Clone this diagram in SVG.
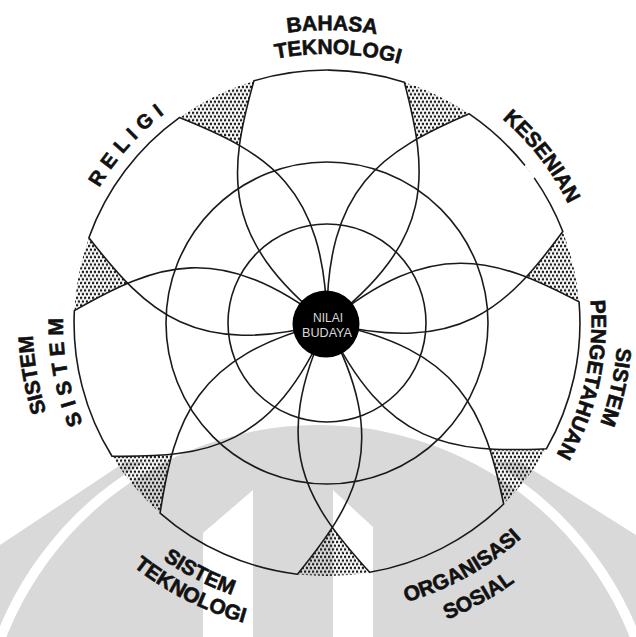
<svg xmlns="http://www.w3.org/2000/svg" width="636" height="637" viewBox="0 0 636 637">
<style>
.ln{fill:none;stroke:#1a1a1a;stroke-width:1.6}
.lbl{font-family:"Liberation Sans",Arial,sans-serif;font-weight:bold;font-size:21px;fill:#111;stroke:#111;stroke-width:0.6}
.ctr{font-family:"Liberation Sans",Arial,sans-serif;font-size:13px;fill:#d8d8d8}
.wm{fill:#d9d9d9}
</style>
<defs>
<pattern id="dots" width="4" height="7.4" patternUnits="userSpaceOnUse">
<circle cx="1" cy="1.85" r="1.3" fill="#1e1e1e"/>
<circle cx="3" cy="5.55" r="1.3" fill="#1e1e1e"/>
</pattern>
<path id="petal" d="M0,0 C84,-108 150,-100 241.5,-75.2 A253,253 0 0 1 241.5,75.2 C150,100 84,108 0,0 Z"/>
<mask id="gaps">
<circle cx="327" cy="323" r="253" fill="#fff"/>
<g fill="#000">
<use href="#petal" transform="translate(327,323) rotate(-89.5)"/>
<use href="#petal" transform="translate(327,323) rotate(-38.5)"/>
<use href="#petal" transform="translate(327,323) rotate(12.5)"/>
<use href="#petal" transform="translate(327,323) rotate(63)"/>
<use href="#petal" transform="translate(327,323) rotate(114)"/>
<use href="#petal" transform="translate(327,323) rotate(165.5)"/>
<use href="#petal" transform="translate(327,323) rotate(217)"/>
</g>
</mask>
<clipPath id="lowclip"><path d="M0,545 L125,462 L520,462 L636,535 L636,637 L0,637 Z"/></clipPath>
<path id="aBahasa" d="M53.5,218 A293,293 0 0 1 604,227.6"/>
<path id="aTekTop" d="M78.1,220.9 A269,269 0 0 1 583.3,241.2"/>
<path id="aReligi" d="M92.8,447 A265,265 0 0 1 426.7,77.5"/>
<path id="aKesenian" d="M244.8,66.9 A269,269 0 0 1 554.6,466.4"/>
<path id="aRight1" d="M483.4,77.6 A291,291 0 0 1 365,611.5"/>
<path id="aRight2" d="M469.1,99.9 A264.5,264.5 0 0 1 361.5,585.2"/>
<path id="aLeft1" d="M275.9,613 A294.5,294.5 0 0 1 179.75,68"/>
<path id="aLeft2" d="M281.2,583 A264,264 0 0 1 195,94.4"/>
<path id="aBL1" d="M41.2,287.9 A288,288 0 0 0 523.4,533.6"/>
<path id="aBL2" d="M18.3,285.1 A311,311 0 0 0 539.1,550.5"/>
<path id="aBR1" d="M136.7,541.9 A290,290 0 0 0 613.4,277.6"/>
<path id="aBR2" d="M117.1,564.5 A320,320 0 0 0 643.1,273"/>
</defs>

<g id="watermark">
<path class="wm" clip-path="url(#lowclip)" fill-rule="evenodd" d="M-72,760 A390,390 0 1 1 708,760 A390,390 0 1 1 -72,760 Z M-27,760 A345,345 0 1 0 663,760 A345,345 0 1 0 -27,760 Z"/>
<circle class="wm" cx="318" cy="760" r="335"/>
<path fill="#fff" d="M203,533 L253,490 L253,637 L203,637 Z"/>
<path fill="#fff" d="M333,490 L373,527 L373,637 L333,637 Z"/>
</g>

<g id="stipple">
<circle cx="327" cy="323" r="253" fill="url(#dots)" mask="url(#gaps)"/>
</g>

<g id="rings">
<circle class="ln" cx="327" cy="323" r="99"/>
<circle class="ln" cx="327" cy="323" r="161"/>
</g>

<g id="bahasa-teknologi">
<use href="#petal" class="ln" transform="translate(327,323) rotate(-89.5)"/>
<text class="lbl"><textPath href="#aBahasa" startOffset="50%" text-anchor="middle">BAHASA</textPath><textPath href="#aTekTop" startOffset="50%" text-anchor="middle">TEKNOLOGI</textPath></text>
</g>

<g id="kesenian">
<path class="ln" transform="translate(327,323) rotate(-38.5)" d="M0,0 C84,-108 150,-100 241.5,-75.2 A253,253 0 0 1 253,0 M252.5,15.4 A253,253 0 0 1 241.5,75.2 C150,100 84,108 0,0"/>
<text class="lbl"><textPath href="#aKesenian" startOffset="50%" text-anchor="middle">KESENIAN</textPath></text>
</g>

<g id="sistem-pengetahuan">
<use href="#petal" class="ln" transform="translate(327,323) rotate(12.5)"/>
<text class="lbl"><textPath href="#aRight1" startOffset="50%" text-anchor="middle">SISTEM</textPath><textPath href="#aRight2" startOffset="50%" text-anchor="middle">PENGETAHUAN</textPath></text>
</g>

<g id="organisasi-sosial">
<use href="#petal" class="ln" transform="translate(327,323) rotate(63)"/>
<text class="lbl"><textPath href="#aBR1" startOffset="50%" text-anchor="middle">ORGANISASI</textPath><textPath href="#aBR2" startOffset="50%" text-anchor="middle">SOSIAL</textPath></text>
</g>

<g id="sistem-teknologi">
<use href="#petal" class="ln" transform="translate(327,323) rotate(114)"/>
<text class="lbl"><textPath href="#aBL1" startOffset="50%" text-anchor="middle">SISTEM</textPath><textPath href="#aBL2" startOffset="50%" text-anchor="middle">TEKNOLOGI</textPath></text>
</g>

<g id="sistem-sistem">
<use href="#petal" class="ln" transform="translate(327,323) rotate(165.5)"/>
<text class="lbl"><textPath href="#aLeft1" startOffset="50%" text-anchor="middle">SISTEM</textPath><textPath href="#aLeft2" startOffset="50%" text-anchor="middle" style="letter-spacing:6px">SISTEM</textPath></text>
</g>

<g id="religi">
<use href="#petal" class="ln" transform="translate(327,323) rotate(217)"/>
<text class="lbl" style="font-size:20px;letter-spacing:6.5px"><textPath href="#aReligi" startOffset="50%" text-anchor="middle">RELIGI</textPath></text>
</g>

<g id="nilai-budaya">
<circle cx="326" cy="324" r="33.5" fill="#000"/>
<text class="ctr" x="328" y="322" text-anchor="middle" textLength="30" lengthAdjust="spacingAndGlyphs">NILAI</text>
<text class="ctr" x="327" y="337" text-anchor="middle" textLength="50" lengthAdjust="spacingAndGlyphs">BUDAYA</text>
</g>
</svg>
